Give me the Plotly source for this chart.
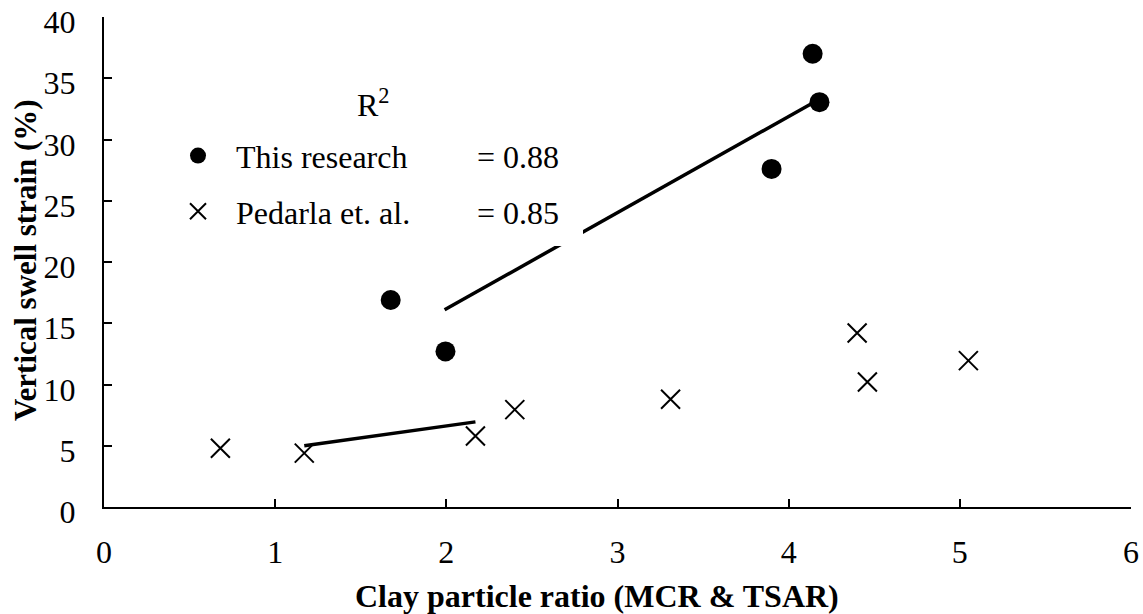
import plotly.graph_objects as go

# ---- data ----
research_x = [1.675, 1.995, 3.90, 4.14, 4.18]
research_y = [16.9, 12.7, 27.6, 37.0, 33.05]

pedarla_x = [0.68, 1.17, 2.17, 2.40, 3.31, 4.40, 4.46, 5.05]
pedarla_y = [4.8, 4.4, 5.8, 7.95, 8.8, 14.2, 10.2, 11.95]

research_fit_x = [1.99, 4.13]
research_fit_y = [16.1, 32.9]
pedarla_fit_x = [1.17, 2.17]
pedarla_fit_y = [5.0, 6.95]

series_names = ["This research", "Pedarla et. al."]
r2_labels = ["= 0.88", "= 0.85"]
x_ticks = [0, 1, 2, 3, 4, 5, 6]
y_ticks = [0, 5, 10, 15, 20, 25, 30, 35, 40]
x_title = "Clay particle ratio (MCR & TSAR)"
y_title = "Vertical swell strain (%)"

FONT = "Liberation Serif, Times New Roman, serif"
FS = 32
W, H = 1143, 614
# plot area in page pixels: x 104..1131, y 16.5..507.5
PL, PR, PT, PB = 104, 1131, 16.5, 507.5
L = PL
R = W - PR
T = PT
B = H - PB


def px(xpage):
    return (xpage - PL) / (PR - PL)


def py(ypage):
    return (PB - ypage) / (PB - PT)


fig = go.Figure()

fig.add_trace(go.Scatter(x=research_fit_x, y=research_fit_y, mode="lines",
                         line=dict(color="black", width=3.5), showlegend=False,
                         hoverinfo="skip"))
fig.add_trace(go.Scatter(x=pedarla_fit_x, y=pedarla_fit_y, mode="lines",
                         line=dict(color="black", width=3.5), showlegend=False,
                         hoverinfo="skip"))
fig.add_trace(go.Scatter(x=research_x, y=research_y, mode="markers",
                         name=series_names[0], legendgroup="a",
                         marker=dict(symbol="circle", size=20, color="black")))
fig.add_trace(go.Scatter(x=pedarla_x, y=pedarla_y, mode="markers",
                         name=series_names[1], legendgroup="b",
                         marker=dict(symbol="x-thin", size=19, color="black",
                                     line=dict(color="black", width=2))))

axis_common = dict(ticks="inside", ticklen=8, tickwidth=1.5, tickcolor="black",
                   showline=True, linewidth=2, linecolor="black", showgrid=False,
                   zeroline=False, ticklabeloverflow="allow", automargin=False,
                   tickfont=dict(family=FONT, size=FS))

fig.update_layout(
    width=W, height=H,
    margin=dict(l=L, r=R, t=T, b=B, pad=0, autoexpand=False),
    paper_bgcolor="white", plot_bgcolor="white",
    font=dict(family=FONT, size=FS, color="black"),
    showlegend=True,
    legend=dict(x=px(160), xanchor="left", y=py(128), yanchor="top",
                bgcolor="rgba(0,0,0,0)", borderwidth=0,
                font=dict(family=FONT, size=FS, color="black"),
                itemwidth=66, tracegroupgap=11, traceorder="grouped"),
    xaxis=dict(range=[0, 6], tickvals=x_ticks, ticklabelstandoff=16, **axis_common),
    yaxis=dict(range=[0, 40], tickvals=y_ticks, ticklabelstandoff=20,
               ticklabelshift=5, **axis_common),
    shapes=[dict(type="rect", xref="paper", yref="paper", layer="above",
                 x0=px(150), x1=px(583), y0=py(246), y1=py(80),
                 fillcolor="white", line=dict(width=0))],
    annotations=[
        dict(text="R<sup>2</sup>", xref="paper", yref="paper", x=px(373), y=py(103),
             xanchor="center", yanchor="middle", showarrow=False,
             font=dict(family=FONT, size=FS)),
        dict(text=r2_labels[0], xref="paper", yref="paper", x=px(475), y=py(157),
             xanchor="left", yanchor="middle", showarrow=False,
             font=dict(family=FONT, size=FS)),
        dict(text=r2_labels[1], xref="paper", yref="paper", x=px(475), y=py(213),
             xanchor="left", yanchor="middle", showarrow=False,
             font=dict(family=FONT, size=FS)),
        dict(text="<b>" + x_title + "</b>", xref="paper", yref="paper",
             x=px(597), y=py(597), xanchor="center", yanchor="middle",
             showarrow=False, font=dict(family=FONT, size=FS)),
        dict(text="<b>" + y_title + "</b>", xref="paper", yref="paper",
             x=px(25), y=py(260), xanchor="center", yanchor="middle",
             textangle=-90, showarrow=False, font=dict(family=FONT, size=31)),
    ],
)

# remove the browser's default 8 px body margin so the figure fills the window
fig.write_html("out.html",
               config={"displayModeBar": False},
               post_script="document.body.style.margin='0px';"
                           "document.body.style.overflow='hidden';")
